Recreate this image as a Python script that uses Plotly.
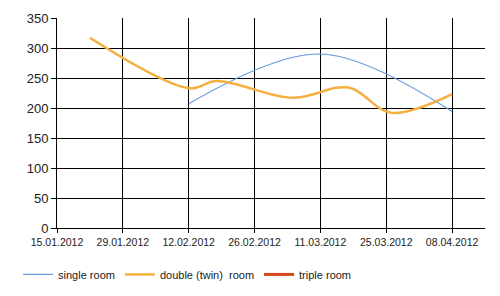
import plotly.graph_objects as go

single_dates = ["2012-02-12", "2012-03-11", "2012-04-08"]
single_values = [207, 290, 194]

double_dates = ["2012-01-22", "2012-02-12", "2012-02-18", "2012-03-05",
                "2012-03-17", "2012-03-26", "2012-04-08"]
double_values = [317, 233, 245, 217, 234, 192, 223]

triple_dates = [None]
triple_values = [None]

series_names = ["single room", "double (twin)  room", "triple room"]
colors = ["#6495e0", "#f5b041", "#d4481c"]

fig = go.Figure()
fig.add_trace(go.Scatter(x=single_dates, y=single_values, mode="lines",
                         name=series_names[0],
                         line=dict(color=colors[0], width=1.2, shape="spline", smoothing=1)))
fig.add_trace(go.Scatter(x=double_dates, y=double_values, mode="lines",
                         name=series_names[1],
                         line=dict(color=colors[1], width=2.5, shape="spline", smoothing=1)))
fig.add_trace(go.Scatter(x=triple_dates, y=triple_values, mode="lines",
                         name=series_names[2],
                         line=dict(color=colors[2], width=3)))

fig.update_layout(
    width=500, height=296,
    margin=dict(l=57, r=15, t=18, b=68, autoexpand=False),
    paper_bgcolor="white", plot_bgcolor="white",
    font=dict(family="Liberation Sans", color="#222"),
    showlegend=True,
    legend=dict(orientation="h", x=-0.091, y=-0.152, xanchor="left", yanchor="top",
                font=dict(size=11, color="#222"), itemwidth=30),
)
fig.update_xaxes(
    type="date",
    range=["2012-01-15", "2012-04-15"],
    tick0="2012-01-15", dtick=14 * 86400000,
    tickformat="%d.%m.%Y",
    showgrid=True, gridcolor="black", gridwidth=1,
    showline=True, linecolor="black", linewidth=1,
    ticks="outside", ticklen=4, tickcolor="black",
    tickfont=dict(size=10.5, color="#222"),
    zeroline=False,
)
fig.update_yaxes(
    range=[0, 350], dtick=50,
    showgrid=True, gridcolor="black", gridwidth=1,
    showline=True, linecolor="black", linewidth=1,
    ticks="outside", ticklen=5, tickcolor="black",
    tickfont=dict(size=13, color="#222"),
    zeroline=False,
)

fig.write_html("out.html")
